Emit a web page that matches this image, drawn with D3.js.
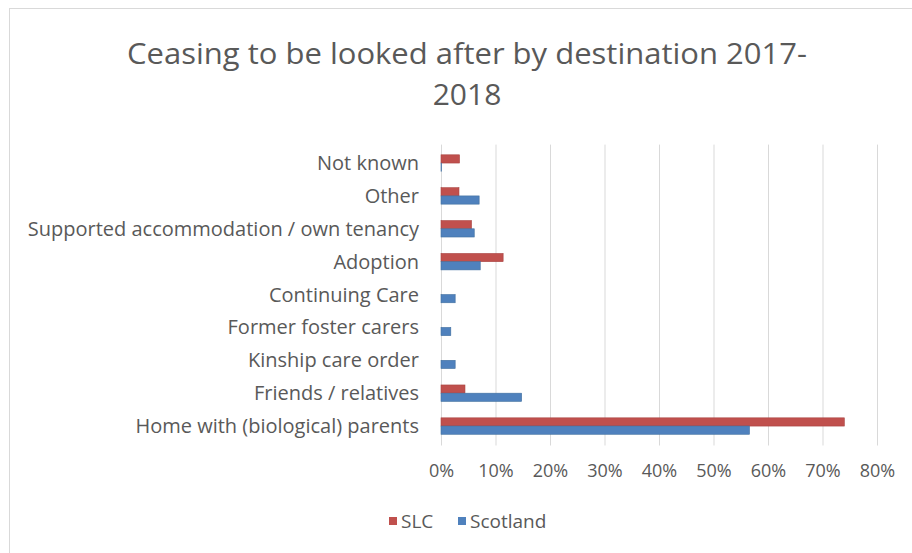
<!DOCTYPE html>
<html><head><meta charset="utf-8">
<script src="https://cdn.jsdelivr.net/npm/d3@7/dist/d3.min.js"></script>
<style>
html,body{margin:0;padding:0;background:#fff;}
text{font-family:"Open Sans","Liberation Sans",sans-serif;fill:#595959;}
</style></head>
<body><svg id="c" width="912" height="553"></svg>
<script>
const categories = ["Not known","Other","Supported accommodation / own tenancy","Adoption","Continuing Care","Former foster carers","Kinship care order","Friends / relatives","Home with (biological) parents"];
const slcValues = [3.4, 3.3, 5.6, 11.4, 0, 0, 0, 4.4, 74.0];
const scotlandValues = [0.1, 7.0, 6.1, 7.2, 2.6, 1.8, 2.6, 14.8, 56.6];
const seriesNames = ["SLC","Scotland"];
const seriesColors = ["#C0504D","#4F81BD"];
const seriesStroke = ["#a94441","#41709f"];
const xTicks = [0,10,20,30,40,50,60,70,80];
const titleLines = ["Ceasing to be looked after by destination 2017-","2018"];

const svg = d3.select("#c");
svg.append("rect").attr("x",9.5).attr("y",8.5).attr("width",920).attr("height",560)
  .attr("fill","#fff").attr("stroke","#d9d9d9");

const m = {left:441, right:877, top:146.6, bottom:442.5};
const x = d3.scaleLinear().domain([0,80]).range([m.left,m.right]);
const y = d3.scaleBand().domain(categories).range([m.top,m.bottom]).paddingInner(0.5).paddingOuter(0.25);

// title
svg.selectAll("text.title").data(titleLines).join("text").attr("class","title")
  .attr("x",467).attr("y",(d,i)=>64+i*41).attr("text-anchor","middle")
  .style("font-size","30px").text(d=>d)
  .each(function(d,i){ if(i===0){ d3.select(this).attr("textLength",680).attr("lengthAdjust","spacingAndGlyphs"); } });

// gridlines
svg.append("g").selectAll("line").data(xTicks).join("line")
  .attr("x1",d=>x(d)+0.5).attr("x2",d=>x(d)+0.5).attr("y1",m.top-2).attr("y2",m.bottom+3)
  .attr("stroke","#d9d9d9").attr("stroke-width",1);

const xAxis = d3.axisBottom(x).tickValues(xTicks).tickFormat(d=>d+"%").tickSize(0).tickPadding(0);
const gx = svg.append("g").attr("transform",`translate(0,${m.bottom+28})`).call(xAxis);
gx.select(".domain").remove();
gx.selectAll("text").style("font-size","18px").attr("fill","#595959").attr("dy","0.35em");

const yAxis = d3.axisLeft(y).tickSize(0).tickPadding(0);
const gy = svg.append("g").attr("transform",`translate(${m.left-22},0)`).call(yAxis);
gy.select(".domain").remove();
gy.selectAll("text").style("font-size","20px").attr("fill","#595959").attr("dy","0.35em");

const bh = y.bandwidth()/2;
const data = categories.map((c,i)=>({c, v:[slcValues[i], scotlandValues[i]]}));
const groups = svg.append("g").selectAll("g").data(data).join("g");
groups.selectAll("rect").data(d=>d.v.map((v,k)=>({c:d.c,v,k}))).join("rect")
  .attr("x",x(0)).attr("y",d=>y(d.c)+d.k*bh).attr("width",d=>x(d.v)-x(0)).attr("height",bh)
  .attr("fill",d=>seriesColors[d.k])
  .attr("stroke",d=>d.v>0?seriesStroke[d.k]:"none").attr("stroke-width",0.6);

// legend
const leg = svg.append("g");
const legX = [389, 458];
seriesNames.forEach((s,i)=>{
  leg.append("rect").attr("x",legX[i]).attr("y",517).attr("width",8).attr("height",8).attr("fill",seriesColors[i]);
  leg.append("text").attr("x",legX[i]+12).attr("y",521).attr("dy","0.35em").style("font-size","19px").text(s);
});
</script></body></html>
